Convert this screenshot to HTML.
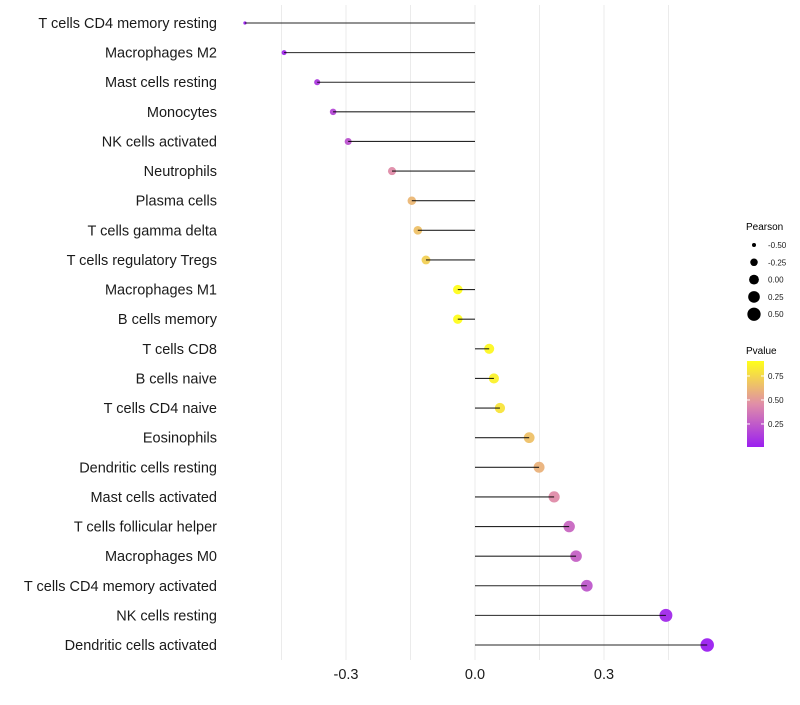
<!DOCTYPE html>
<html><head><meta charset="utf-8"><style>
body{margin:0;background:#fff;}
svg text{font-family:"Liberation Sans",sans-serif;}
</style></head><body>
<svg id="chart" width="800" height="700">
<g id="grid"></g>
<g id="marks"></g>
<g id="ylabels"></g>
<g id="xlabels"></g>
<g id="legend">
<text x="746" y="230" font-size="10">Pearson</text>
<text x="746" y="354" font-size="10">Pvalue</text>
<defs><linearGradient id="pg" x1="0" y1="1" x2="0" y2="0">
<stop offset="0" stop-color="#9B1FF0"/><stop offset="0.5" stop-color="#E08EA8"/><stop offset="1" stop-color="#FFFF1A"/></linearGradient></defs>
<rect x="747" y="361" width="17" height="86" fill="url(#pg)"/>
</g>
</svg>
<script>
const categories=["T cells CD4 memory resting","Macrophages M2","Mast cells resting","Monocytes","NK cells activated","Neutrophils","Plasma cells","T cells gamma delta","T cells regulatory  Tregs ","Macrophages M1","B cells memory","T cells CD8","B cells naive","T cells CD4 naive","Eosinophils","Dendritic cells resting","Mast cells activated","T cells follicular helper","Macrophages M0","T cells CD4 memory activated","NK cells resting","Dendritic cells activated"];
const pearson=[-0.535,-0.444,-0.367,-0.330,-0.295,-0.193,-0.147,-0.133,-0.114,-0.040,-0.040,0.033,0.044,0.058,0.126,0.149,0.184,0.219,0.235,0.260,0.444,0.540];
const pvalues=[0.01,0.05,0.12,0.17,0.22,0.45,0.62,0.66,0.72,0.9,0.9,0.88,0.85,0.8,0.66,0.6,0.45,0.3,0.28,0.24,0.05,0.01];
const xTicks=[-0.3,0,0.3];
const xTickLabels=["-0.3","0.0","0.3"];
const gridVals=[-0.45,-0.3,-0.15,0,0.15,0.3,0.45];
const sizeLegendVals=[-0.5,-0.25,0,0.25,0.5];
const sizeLegendLabels=["-0.50","-0.25","0.00","0.25","0.50"];
const pLegendTicks=[0.75,0.5,0.25];
const pLegendLabels=["0.75","0.50","0.25"];

const NS="http://www.w3.org/2000/svg";
const xs=v=>475+v*430;
const ys=i=>23+i*(622/21);
const rs=v=>Math.max(1.5,Math.sqrt(Math.max(0,4+40*(v+0.5))));
function lerp(a,b,t){return a.map((c,i)=>Math.round(c+(b[i]-c)*t));}
function col(p){let t=(p-0.01)/(0.906-0.01);t=Math.max(0,Math.min(1,t));
const A=[155,31,240],B=[224,142,168],C=[255,255,26];
const c=t<0.5?lerp(A,B,t/0.5):lerp(B,C,(t-0.5)/0.5);return `rgb(${c})`;}
function mk(tag,attrs,parent){const e=document.createElementNS(NS,tag);for(const k in attrs)e.setAttribute(k,attrs[k]);parent.appendChild(e);return e;}
const grid=document.getElementById('grid'),marks=document.getElementById('marks'),yl=document.getElementById('ylabels'),xl=document.getElementById('xlabels'),lg=document.getElementById('legend');
gridVals.forEach(v=>{const l=mk('line',{x1:xs(v),x2:xs(v),y1:5,y2:660,stroke:'#ebebeb','stroke-width':1},grid);

});
categories.forEach((c,i)=>{
const y=ys(i);
const d=mk('circle',{cx:xs(pearson[i]),cy:y,r:rs(pearson[i]),fill:col(pvalues[i]),'fill-opacity':0.95},marks);


const s=mk('line',{x1:xs(0),x2:xs(pearson[i]),y1:y,y2:y,stroke:'#000','stroke-width':1.1,'stroke-opacity':0.85},marks);


const t=mk('text',{x:217,y:y+5,'text-anchor':'end','font-size':14.5,fill:'#1a1a1a'},yl);t.textContent=c;


});
xTicks.forEach((v,i)=>{const t=mk('text',{x:xs(v),y:679,'text-anchor':'middle','font-size':14.5,fill:'#1a1a1a'},xl);t.textContent=xTickLabels[i];

});
sizeLegendVals.forEach((v,i)=>{const y=245+i*17.3;
const c=mk('circle',{cx:754,cy:y,r:rs(v),fill:'#000'},lg);


const t=mk('text',{x:768,y:y+3,'font-size':8,fill:'#1a1a1a'},lg);t.textContent=sizeLegendLabels[i];

});
pLegendTicks.forEach((v,i)=>{const y=447-(v-0.01)/(0.906-0.01)*86;
mk('line',{x1:747,x2:750,y1:y,y2:y,stroke:'#fff'},lg);mk('line',{x1:761,x2:764,y1:y,y2:y,stroke:'#fff'},lg);
const t=mk('text',{x:768,y:y+3,'font-size':8,fill:'#1a1a1a'},lg);t.textContent=pLegendLabels[i];

});
</script>
</body></html>
